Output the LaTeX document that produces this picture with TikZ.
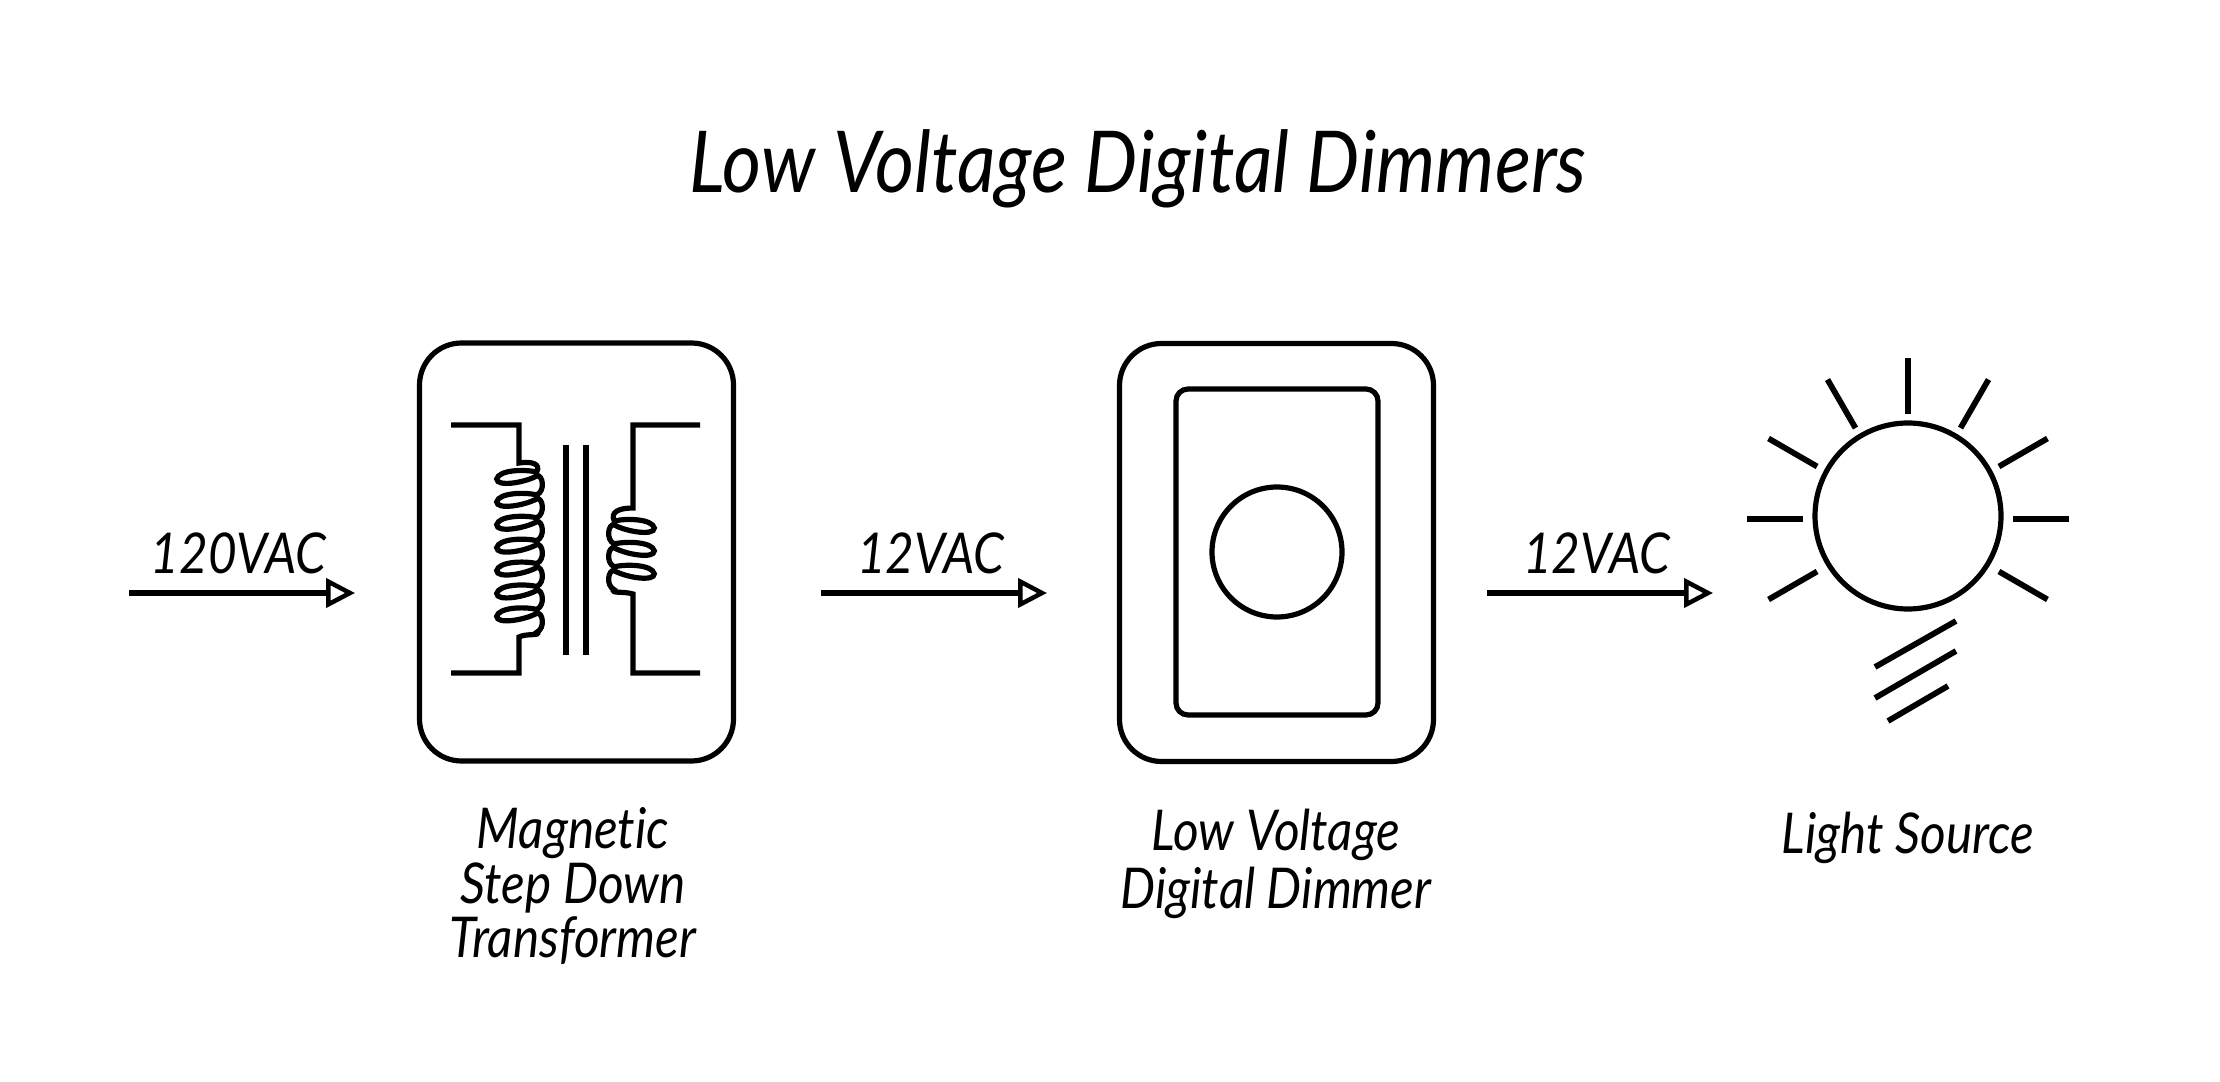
\documentclass[tikz,border=0pt]{standalone}
\usepackage{fontspec}
\setmainfont{Lato}[FakeStretch=0.88,Ligatures=NoCommon]
\usetikzlibrary{calc,arrows.meta}
\begin{document}
\begin{tikzpicture}[x=0.1mm,y=-0.1mm,
        ln/.style={line width=0.52mm,color=black},
        hv/.style={line width=0.58mm,color=black},
        bx/.style={draw,ln,rounded corners=4.2mm,minimum width=31.4mm,minimum height=41.8mm,inner sep=0pt},
        ar/.style={-{Triangle[open,fill=white,length=2.9mm,width=2.9mm,line width=0.45mm]},line width=0.55mm},
        lb/.style={font=\fontsize{16pt}{14.2pt}\selectfont\itshape,align=center,inner sep=0pt},
        ttl/.style={font=\fontsize{24.3pt}{26pt}\selectfont\itshape,inner sep=0pt}]
        \useasboundingbox (0,0) rectangle (2220,1082);
        \node[ttl] (title) at (1138,169) {Low Voltage Digital Dimmers};
        % boxes
        \node[bx] (xfmr) at (576.5,552) {};
        \node[bx] (dimmer) at (1276.5,552.5) {};
        \node[draw,ln,rounded corners=1.2mm,minimum width=20.2mm,minimum height=32.6mm] (plate) at (1277,552) {};
        \node[draw,ln,circle,minimum size=13mm,inner sep=0pt] (knob) at (1277,552) {};
        % arrows
        \foreach \n/\xa/\xb/\t in {a/129/355/120VAC,b/821/1047/12VAC,c/1487/1713/12VAC}{
          \coordinate (\n0) at (\xa,593);
          \coordinate (\n1) at (\xb,593);
          \draw[ar] (\n0) -- (\n1);
          \node[lb] (\n t) at ($(\n0)!0.485!(\n1)+(0,-40)$) {\t};
        }
        % transformer
        \draw[hv] (566,445) -- (566,655);
        \draw[hv] (586,445) -- (586,655);
        \draw[ln,line join=miter] (451,425) -- (519,425) -- (519,463) .. controls (532,461) and (541,464) .. (536.7,472)
          \foreach \k in {1,...,7}{
            .. controls +(-13,-3) and +(2,-9) .. ++(-40,7)
            .. controls +(0,8) and +(-13,7) .. ++(40,-3)
            .. controls +(6,-2) and +(9,-4) .. ++(0,18.9)
          }
          .. controls +(4,4) and +(8,-4) .. (519,637) -- (519,673) -- (451,673);
        \begin{scope}[shift={(1151,0)},xscale=-1]
        \draw[ln,line join=miter] (451,425) -- (518,425) -- (518,508) .. controls (532,508) and (541,512) .. (536.7,521)
          \foreach \k in {1,...,3}{
            .. controls +(-13,-3) and +(2,-9) .. ++(-40,7)
            .. controls +(0,8) and +(-13,7) .. ++(40,-3)
            .. controls +(6,-2) and +(9,-4) .. ++(0,18.9)
          }
          .. controls +(4,4) and +(10,-3) .. (518,594) -- (518,673) -- (451,673);
        \end{scope}
        % light source
        \node[draw,ln,circle,minimum size=18.6mm,inner sep=0pt] (bulb) at (1908,516) {};
        \coordinate (rays) at (1908,519);
        \foreach \a in {0,-30,-60,-90,-120,-150,180,150,30}{
          \draw[hv] ($(rays)+(\a:105)$) -- ($(rays)+(\a:161)$);
        }
        \draw[hv] (1875,667) -- (1956,621);
        \draw[hv] (1875,698) -- (1956,651);
        \draw[hv] (1888,721) -- (1948,686);
        % captions
        \node[lb] (xfmrcap) at (573,886) {Magnetic\\Step Down\\Transformer};
        \node[lb] (dimmercap) at (1276,864) {Low Voltage\\[0.3mm]Digital Dimmer};
        \node[lb] (bulbcap) at (1908,838) {Light Source};
      \end{tikzpicture}
\end{document}
